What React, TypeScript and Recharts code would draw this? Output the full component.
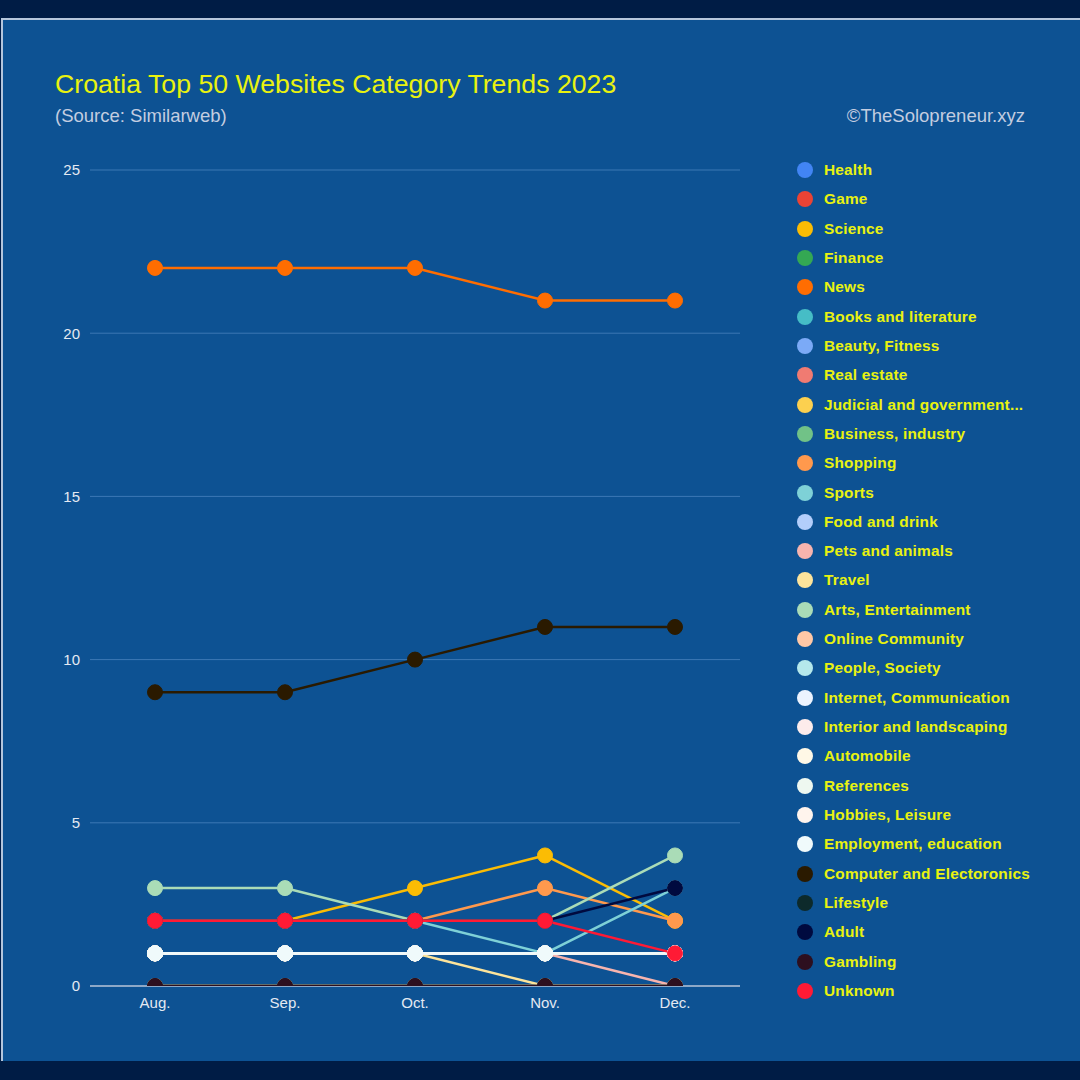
import { LineChart, Line, XAxis, YAxis, CartesianGrid } from 'recharts';

// months on the x axis
const months = ['Aug.', 'Sep.', 'Oct.', 'Nov.', 'Dec.'];
const yTicks = [0, 5, 10, 15, 20, 25];

const categories = [
  'Health',
  'Game',
  'Science',
  'Finance',
  'News',
  'Books and literature',
  'Beauty, Fitness',
  'Real estate',
  'Judicial and government...',
  'Business, industry',
  'Shopping',
  'Sports',
  'Food and drink',
  'Pets and animals',
  'Travel',
  'Arts, Entertainment',
  'Online Community',
  'People, Society',
  'Internet, Communication',
  'Interior and landscaping',
  'Automobile',
  'References',
  'Hobbies, Leisure',
  'Employment, education',
  'Computer and Electoronics',
  'Lifestyle',
  'Adult',
  'Gambling',
  'Unknown',
];

const colors = [
  '#4285f4', '#ea4335', '#fbbc04', '#34a853', '#ff6d01', '#46bdc6', '#7baaf7', '#f07b72',
  '#fcd04f', '#71c287', '#ff994d', '#7ed1d7', '#b3cefb', '#f7b4ae', '#fde49b', '#aadcb7',
  '#ffc8a6', '#b5e8eb', '#ecf3fe', '#fdeceb', '#fff8e6', '#eef8f0', '#fff4ed', '#f0fafb',
  '#2a1a00', '#0d2a2b', '#000a3f', '#2d0f1f', '#ff1a35',
];

const health = [0, 0, 0, 0, 0];
const game = [0, 0, 0, 0, 0];
const science = [2, 2, 3, 4, 2];
const finance = [0, 0, 0, 0, 0];
const news = [22, 22, 22, 21, 21];
const books = [0, 0, 0, 0, 0];
const beauty = [0, 0, 0, 0, 0];
const realEstate = [0, 0, 0, 0, 0];
const judicial = [0, 0, 0, 0, 0];
const business = [0, 0, 0, 0, 0];
const shopping = [2, 2, 2, 3, 2];
const sports = [2, 2, 2, 1, 3];
const food = [0, 0, 0, 0, 0];
const pets = [1, 1, 1, 1, 0];
const travel = [1, 1, 1, 0, 0];
const arts = [3, 3, 2, 2, 4];
const onlineCommunity = [1, 1, 1, 1, 1];
const people = [1, 1, 1, 1, 1];
const internet = [1, 1, 1, 1, 1];
const interior = [1, 1, 1, 1, 1];
const automobile = [1, 1, 1, 1, 1];
const references = [1, 1, 1, 1, 1];
const hobbies = [1, 1, 1, 1, 1];
const employment = [1, 1, 1, 1, 1];
const computer = [9, 9, 10, 11, 11];
const lifestyle = [0, 0, 0, 0, 0];
const adult = [2, 2, 2, 2, 3];
const gambling = [0, 0, 0, 0, 0];
const unknown = [2, 2, 2, 2, 1];

const seriesValues = [
  health, game, science, finance, news, books, beauty, realEstate, judicial, business,
  shopping, sports, food, pets, travel, arts, onlineCommunity, people, internet, interior,
  automobile, references, hobbies, employment, computer, lifestyle, adult, gambling, unknown,
];

const data = months.map((month, i) => {
  const row: Record<string, string | number> = { month };
  seriesValues.forEach((vals, k) => {
    row[`s${k}`] = vals[i];
  });
  return row;
});

const FONT = '"Liberation Sans", Arial, sans-serif';
const YELLOW = '#e9f20f';
const PLOT_BOTTOM = 986;

// grid lines sit under the series, the baseline gets the lighter axis colour
const gridLine = (p: any) => {
  const isBase = Math.abs(p.y1 - PLOT_BOTTOM) < 1;
  return (
    <line
      key={`h-${p.index}-${p.y1}`}
      x1={p.x1}
      y1={p.y1}
      x2={p.x2}
      y2={p.y2}
      stroke={isBase ? '#b9c6d8' : '#3c78b4'}
      strokeWidth={isBase ? 1.5 : 1}
    />
  );
};

export default function App() {
  return (
    <div style={{ position: 'absolute', left: 0, top: 0, width: 1080, height: 1080, background: '#001c45', fontFamily: FONT, overflow: 'hidden' }}>
      <div
        style={{
          position: 'absolute',
          left: 1,
          top: 18,
          width: 1079,
          height: 1043,
          background: '#0d5293',
          borderTop: '2px solid #b5c6dc',
          borderLeft: '2px solid #b5c6dc',
          boxSizing: 'border-box',
        }}
      />
      <div style={{ position: 'absolute', left: 55, top: 71, fontSize: 26.7, lineHeight: 1, color: YELLOW, whiteSpace: 'nowrap' }}>
        Croatia Top 50 Websites Category Trends 2023
      </div>
      <div style={{ position: 'absolute', left: 55, top: 107, fontSize: 18.5, lineHeight: 1, color: '#c3cde0', whiteSpace: 'nowrap' }}>
        (Source: Similarweb)
      </div>
      <div style={{ position: 'absolute', right: 55, top: 107, fontSize: 18.5, lineHeight: 1, color: '#c3cde0', whiteSpace: 'nowrap' }}>
        ©TheSolopreneur.xyz
      </div>

      <div style={{ position: 'absolute', left: 0, top: 0 }}>
        <LineChart width={760} height={1040} data={data} margin={{ top: 170, right: 20, bottom: 24, left: 40 }}>
          <CartesianGrid horizontal={gridLine} vertical={false} stroke="#3c78b4" strokeWidth={1} />
          <XAxis
            dataKey="month"
            padding={{ left: 65, right: 65 }}
            height={30}
            tickLine={false}
            axisLine={false}
            tick={{ fill: '#e4e9f2', fontSize: 15, fontFamily: FONT }}
            tickMargin={5}
            interval={0}
          />
          <YAxis
            width={50}
            domain={[0, 25]}
            ticks={yTicks}
            allowDataOverflow
            axisLine={false}
            tickLine={false}
            tick={{ fill: '#e4e9f2', fontSize: 15, fontFamily: FONT }}
            tickMargin={4}
          />
          {categories.map((name, k) => (
            <Line
              key={name}
              type="linear"
              dataKey={`s${k}`}
              name={name}
              stroke={colors[k]}
              strokeWidth={2.5}
              dot={{ r: 7.5, fill: colors[k], stroke: colors[k], strokeWidth: 1 }}
              activeDot={false}
              isAnimationActive={false}
            />
          ))}
        </LineChart>
      </div>

      {categories.map((name, k) => (
        <div
          key={name}
          style={{
            position: 'absolute',
            left: 797,
            top: 170 + k * 29.32 - 10,
            height: 20,
            display: 'flex',
            alignItems: 'center',
            whiteSpace: 'nowrap',
          }}
        >
          <div style={{ width: 16, height: 16, borderRadius: 8, background: colors[k], marginRight: 11 }} />
          <span style={{ color: YELLOW, fontSize: 15.4, fontWeight: 700, letterSpacing: 0.2 }}>{name}</span>
        </div>
      ))}
    </div>
  );
}
